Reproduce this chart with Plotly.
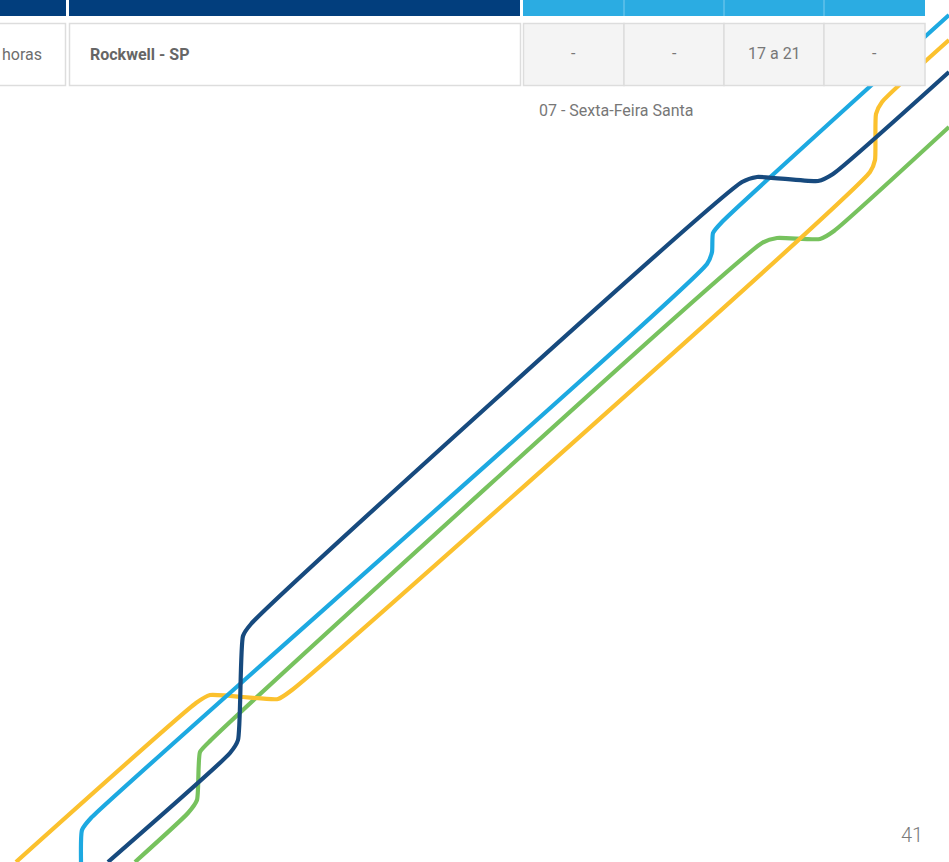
import plotly.graph_objects as go

# ---- data ----
row_labels = ["horas", "Rockwell - SP", "-", "-", "17 a 21", "-"]
note_text = "07 - Sexta-Feira Santa"
page_number = "41"

navy_x = [108, 230, 238, 243, 251, 742, 757, 818, 833, 949]
navy_y = [862, 753, 740, 636, 624, 182, 177, 181, 174, 72]

blue_x = [81, 82, 91, 707, 712, 713, 722, 949]
blue_y = [862, 830, 818, 264, 252, 233, 222, 15]

green_x = [135, 188, 197, 200, 211, 762, 777, 820, 834, 949]
green_y = [862, 813, 800, 752, 740, 243, 238, 239, 231, 127]

yellow_x = [16, 196, 210, 278, 292, 870, 875, 876, 882, 949]
yellow_y = [862, 703, 695, 699, 690, 172, 160, 114, 102, 40]

# ---- style ----
W, H = 949, 862
NAVY, BLUE, GREEN, YELLOW = "#174A7E", "#1DA9E1", "#77C25E", "#FBC12E"
HDR_DARK, HDR_LIGHT = "#023E7D", "#2BACE2"
FONT = "Roboto, sans-serif"

fig = go.Figure()
for xs, ys, c in [(green_x, green_y, GREEN), (yellow_x, yellow_y, YELLOW),
                  (blue_x, blue_y, BLUE), (navy_x, navy_y, NAVY)]:
    fig.add_trace(go.Scatter(x=xs, y=ys, mode="lines",
                             line=dict(color=c, width=4.2, shape="spline", smoothing=0.5),
                             hoverinfo="skip", showlegend=False))

shapes = []
def rect(x0, x1, y0, y1, fill, line_color=None, lw=0):
    shapes.append(dict(type="rect", xref="x", yref="y", x0=x0, x1=x1, y0=y0, y1=y1,
                       fillcolor=fill, layer="above",
                       line=dict(color=line_color or fill, width=lw)))

# header
rect(-2, 66, -2, 16, HDR_DARK)
rect(69, 520, -2, 16, HDR_DARK)
rect(523, 925, -2, 16, HDR_LIGHT)
for xd in [624, 724, 824]:
    shapes.append(dict(type="line", xref="x", yref="y", x0=xd, x1=xd, y0=-2, y1=16,
                       line=dict(color="#7ccbee", width=1), layer="above"))
# row
col_edges = [(-2, 65.5), (69.5, 520.5), (523.5, 624), (624, 724), (724, 824), (824, 925)]
fills = ["#FFFFFF", "#FFFFFF", "#F4F4F4", "#F4F4F4", "#F4F4F4", "#F4F4F4"]
for (x0, x1), f in zip(col_edges, fills):
    rect(x0, x1, 23.5, 85.5, f, "#DDDDDD", 1.5)

annotations = []
annotations.append(dict(x=0, y=54, text=row_labels[0], xanchor="left", yanchor="middle",
                        font=dict(family=FONT, size=16, color="#6d6d6d")))
annotations.append(dict(x=88, y=54, text="<b>" + row_labels[1] + "</b>", xanchor="left",
                        yanchor="middle", font=dict(family=FONT, size=16, color="#666666")))
for (x0, x1), lab in zip(col_edges[2:], row_labels[2:]):
    annotations.append(dict(x=(x0 + x1) / 2, y=53, text=lab, xanchor="center", yanchor="middle",
                            font=dict(family=FONT, size=16, color="#777777")))
annotations.append(dict(x=537, y=110, text=note_text, xanchor="left", yanchor="middle",
                        font=dict(family=FONT, size=16, color="#777777")))
annotations.append(dict(x=925, y=835, text=page_number, xanchor="right", yanchor="middle",
                        font=dict(family=FONT, size=20, color="#7a7a7a", weight=300)))
for a in annotations:
    a.update(xref="x", yref="y", showarrow=False)

fig.update_layout(
    width=W, height=H, margin=dict(l=0, r=0, t=0, b=0),
    paper_bgcolor="white", plot_bgcolor="white",
    xaxis=dict(range=[0, W], visible=False, fixedrange=True),
    yaxis=dict(range=[H, 0], visible=False, fixedrange=True),
    shapes=shapes, annotations=annotations, showlegend=False,
)
fig.write_html("out.html", config={"displayModeBar": False},
               post_script="document.body.style.margin='0';document.body.style.overflow='hidden';")
